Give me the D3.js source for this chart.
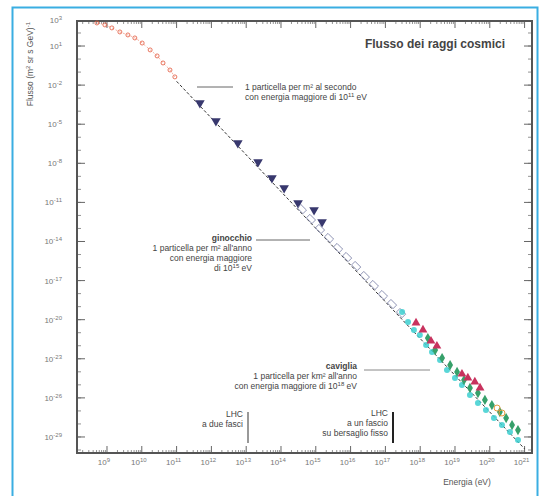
<!DOCTYPE html>
<html>
<head>
<meta charset="utf-8">
<script src="https://cdn.jsdelivr.net/npm/d3@7"></script>
<style>
  body { margin: 0; background: #fff; }
  svg { display: block; font-family: "Liberation Sans", Arial, sans-serif; }
</style>
</head>
<body>
<div id="chart"></div>
<script>
// all values are log10: energy in eV, flux in (m^2 sr s GeV)^-1
const xTickExps = [9, 10, 11, 12, 13, 14, 15, 16, 17, 18, 19, 20, 21];
const yTickExps = [3, 1, -2, -5, -8, -11, -14, -17, -20, -23, -26, -29];

const redE = [8.71, 8.94, 9.14, 9.37, 9.60, 9.80, 10.01, 10.24, 10.44, 10.61, 10.81, 10.95];
const redF = [2.77, 2.62, 2.39, 2.08, 1.85, 1.62, 1.23, 0.70, 0.24, -0.30, -0.84, -1.37];

const protonE = [11.67, 12.13, 12.76, 13.34, 13.74, 14.09, 14.49, 14.95, 15.18];
const protonF = [-3.37, -4.75, -6.44, -7.90, -9.13, -9.89, -11.04, -11.58, -12.50];

const openE = [14.60, 14.86, 15.12, 15.38, 15.64, 15.90, 16.16, 16.41, 16.67, 16.93, 17.19, 17.45];
const openF = [-11.51, -12.27, -13.04, -13.73, -14.50, -15.19, -15.88, -16.65, -17.34, -18.11, -18.80, -19.49];

const cyanE = [17.48, 17.65, 17.82, 17.99, 18.17, 18.34, 18.57, 18.77, 19.00, 19.20, 19.43, 19.66, 19.89, 20.12, 20.35, 20.58, 20.81];
const cyanF = [-19.41, -20.18, -20.79, -21.18, -21.94, -22.48, -23.09, -23.86, -24.47, -25.01, -25.78, -26.39, -26.93, -27.55, -28.09, -28.62, -29.23];

const crimsonE = [17.88, 18.08, 18.31, 18.48, 19.20, 19.37, 19.57, 19.72];
const crimsonF = [-20.25, -20.79, -21.64, -22.02, -24.17, -24.47, -24.78, -25.24];

const greenE = [18.22, 18.43, 18.63, 18.86, 19.06, 19.26, 19.43, 19.66, 19.86, 20.06, 20.29, 20.47, 20.64, 20.81];
const greenF = [-21.41, -22.33, -22.94, -23.48, -24.01, -24.63, -25.24, -25.63, -26.16, -26.55, -27.09, -27.55, -28.09, -28.47];

const orangeE = [20.21, 20.35];
const orangeF = [-26.78, -27.16];

// power law guide line
const lineE = [11.0, 21.0];
const lineF = [-1.71, -29.91];

const W = 544, H = 496;
const mLeft = 77, mRight = 532, mTop = 21, mBottom = 453;

const svg = d3.select('#chart').append('svg')
    .attr('width', W)
    .attr('height', H);

// light blue outer frame
svg.append('rect')
    .attr('x', 12.5).attr('y', 7.5)
    .attr('width', 525).attr('height', 500)
    .attr('fill', 'none')
    .attr('stroke', '#3aaee2')
    .attr('stroke-width', 2);

const x = d3.scaleLog()
    .domain([Math.pow(10, 8.138), Math.pow(10, 21.213)])
    .range([mLeft, mRight]);
const y = d3.scaleLog()
    .domain([Math.pow(10, -30.23), Math.pow(10, 2.92)])
    .range([mBottom, mTop]);

const pts = (es, fs) => es.map((e, i) => ({ e: Math.pow(10, e), f: Math.pow(10, fs[i]) }));

const plot = svg.append('g');

// ticks on all four sides, pointing inwards
const xDecades = d3.range(8, 22);
const xMinor = [];
xDecades.forEach(d => { for (let k = 2; k < 10; k++) xMinor.push(k * Math.pow(10, d)); });
const xMinorIn = xMinor.filter(v => v > x.domain()[0] && v < x.domain()[1]);
const xMajor = xTickExps.map(e => Math.pow(10, e));

[mBottom, mTop].forEach(yy => {
    const dir = yy === mBottom ? -1 : 1;
    plot.selectAll(null).data(xMinorIn).join('line')
        .attr('x1', d => x(d)).attr('x2', d => x(d))
        .attr('y1', yy).attr('y2', yy + dir * 3)
        .attr('stroke', '#777').attr('stroke-width', 0.8);
    plot.selectAll(null).data(xMajor).join('line')
        .attr('x1', d => x(d)).attr('x2', d => x(d))
        .attr('y1', yy).attr('y2', yy + dir * 7)
        .attr('stroke', '#666').attr('stroke-width', 1);
});

const yDecades = d3.range(-30, 3).map(e => Math.pow(10, e));
[mLeft, mRight].forEach(xx => {
    const dir = xx === mLeft ? 1 : -1;
    plot.selectAll(null).data(yDecades).join('line')
        .attr('x1', xx).attr('x2', xx + dir * 4)
        .attr('y1', d => y(d)).attr('y2', d => y(d))
        .attr('stroke', '#777').attr('stroke-width', 0.8);
    plot.selectAll(null).data(yTickExps.filter(e => e < 2.92)).join('line')
        .attr('x1', xx).attr('x2', xx + dir * 8)
        .attr('y1', d => y(Math.pow(10, d))).attr('y2', d => y(Math.pow(10, d)))
        .attr('stroke', '#666').attr('stroke-width', 1);
});

// frame
plot.append('rect')
    .attr('x', mLeft).attr('y', mTop)
    .attr('width', mRight - mLeft).attr('height', mBottom - mTop)
    .attr('fill', 'none')
    .attr('stroke', '#555')
    .attr('stroke-width', 2);

// tick labels
const xl = svg.append('g').attr('fill', '#777').attr('font-size', 8);
xTickExps.forEach(e => {
    const t = xl.append('text')
        .attr('x', x(Math.pow(10, e)) - 3)
        .attr('y', 465)
        .attr('text-anchor', 'middle');
    t.append('tspan').text('10');
    t.append('tspan').attr('dy', -3).attr('font-size', 6).text(e);
});

const yl = svg.append('g').attr('fill', '#777').attr('font-size', 8);
yTickExps.forEach(e => {
    const t = yl.append('text')
        .attr('x', 62)
        .attr('y', Math.max(y(Math.pow(10, e)), 20) + 3)
        .attr('text-anchor', 'end');
    t.append('tspan').text('10');
    t.append('tspan').attr('dy', -3).attr('font-size', 6).text(e);
});

// axis titles
const yt = svg.append('text')
    .attr('transform', 'translate(33,22) rotate(-90)')
    .attr('text-anchor', 'end')
    .attr('font-size', 8.5)
    .attr('fill', '#555');
yt.append('tspan').text('Flusso (m');
yt.append('tspan').attr('dy', -3).attr('font-size', 6).text('2');
yt.append('tspan').attr('dy', 3).text(' sr s GeV)');
yt.append('tspan').attr('dy', -3).attr('font-size', 6).text('-1');

svg.append('text')
    .attr('x', 467).attr('y', 485)
    .attr('text-anchor', 'middle')
    .attr('font-size', 8.5)
    .attr('fill', '#555')
    .text('Energia (eV)');

svg.append('text')
    .attr('x', 505).attr('y', 48)
    .attr('text-anchor', 'end')
    .attr('font-size', 12)
    .attr('font-weight', 'bold')
    .attr('fill', '#444')
    .text('Flusso dei raggi cosmici');

// dashed power law
plot.append('path')
    .datum(pts(lineE, lineF))
    .attr('fill', 'none')
    .attr('stroke', '#333')
    .attr('stroke-width', 1)
    .attr('stroke-dasharray', '3,2')
    .attr('d', d3.line().x(d => x(d.e)).y(d => y(d.f)));

// low energy points
plot.append('path')
    .datum(pts(redE, redF))
    .attr('fill', 'none')
    .attr('stroke', '#f2a08a')
    .attr('stroke-width', 0.8)
    .attr('stroke-dasharray', '2,2')
    .attr('d', d3.line().curve(d3.curveMonotoneX).x(d => x(d.e)).y(d => y(d.f)));
plot.selectAll('.red').data(pts(redE, redF)).join('circle')
    .attr('class', 'red')
    .attr('cx', d => x(d.e)).attr('cy', d => y(d.f))
    .attr('r', 2)
    .attr('fill', 'none')
    .attr('stroke', '#e2553a')
    .attr('stroke-width', 0.8);

// proton triangles
const triDown = d3.symbol().type(d3.symbolTriangle).size(40);
plot.selectAll('.proton').data(pts(protonE, protonF)).join('path')
    .attr('class', 'proton')
    .attr('d', triDown)
    .attr('transform', d => `translate(${x(d.e)},${y(d.f)}) rotate(180)`)
    .attr('fill', '#38386e');

// open boxes band
plot.selectAll('.open').data(pts(openE, openF)).join('rect')
    .attr('class', 'open')
    .attr('x', d => x(d.e) - 4).attr('y', d => y(d.f) - 2.5)
    .attr('width', 8).attr('height', 5)
    .attr('transform', d => `rotate(45,${x(d.e)},${y(d.f)})`)
    .attr('fill', 'none')
    .attr('stroke', '#7a7fa6')
    .attr('stroke-width', 0.8);

plot.selectAll('.cyan').data(pts(cyanE, cyanF)).join('circle')
    .attr('class', 'cyan')
    .attr('cx', d => x(d.e)).attr('cy', d => y(d.f))
    .attr('r', 3)
    .attr('fill', '#3ccfd0')
    .attr('opacity', 0.85);

plot.selectAll('.green').data(pts(greenE, greenF)).join('path')
    .attr('class', 'green')
    .attr('d', d3.symbol().type(d3.symbolDiamond).size(30))
    .attr('transform', d => `translate(${x(d.e)},${y(d.f)})`)
    .attr('fill', '#36a06a');

plot.selectAll('.crimson').data(pts(crimsonE, crimsonF)).join('path')
    .attr('class', 'crimson')
    .attr('d', d3.symbol().type(d3.symbolTriangle).size(34))
    .attr('transform', d => `translate(${x(d.e)},${y(d.f)})`)
    .attr('fill', '#c8325e');

plot.selectAll('.orange').data(pts(orangeE, orangeF)).join('circle')
    .attr('class', 'orange')
    .attr('cx', d => x(d.e)).attr('cy', d => y(d.f))
    .attr('r', 3)
    .attr('fill', 'none')
    .attr('stroke', '#e39a3a')
    .attr('stroke-width', 1);

// annotations
const ann = svg.append('g').attr('font-size', 8.5).attr('fill', '#444');

ann.append('line').attr('x1', 197).attr('x2', 233).attr('y1', 87).attr('y2', 87)
    .attr('stroke', '#666').attr('stroke-width', 1);
const a1 = ann.append('text').attr('x', 245).attr('y', 90);
a1.append('tspan').attr('x', 245).text('1 particella per m² al secondo');
const a1b = ann.append('text').attr('x', 245).attr('y', 100);
a1b.append('tspan').text('con energia maggiore di 10');
a1b.append('tspan').attr('dy', -3).attr('font-size', 6).text('11');
a1b.append('tspan').attr('dy', 3).text(' eV');

ann.append('line').attr('x1', 256).attr('x2', 310).attr('y1', 240).attr('y2', 240)
    .attr('stroke', '#666').attr('stroke-width', 1);
ann.append('text').attr('x', 252).attr('y', 241).attr('text-anchor', 'end')
    .attr('font-weight', 'bold').text('ginocchio');
ann.append('text').attr('x', 252).attr('y', 251).attr('text-anchor', 'end')
    .text('1 particella per m² all\'anno');
ann.append('text').attr('x', 252).attr('y', 261).attr('text-anchor', 'end')
    .text('con energia maggiore');
const k4 = ann.append('text').attr('x', 252).attr('y', 271).attr('text-anchor', 'end');
k4.append('tspan').text('di 10');
k4.append('tspan').attr('dy', -3).attr('font-size', 6).text('15');
k4.append('tspan').attr('dy', 3).text(' eV');

ann.append('line').attr('x1', 364).attr('x2', 430).attr('y1', 370).attr('y2', 370)
    .attr('stroke', '#888').attr('stroke-width', 1);
ann.append('text').attr('x', 357).attr('y', 369).attr('text-anchor', 'end')
    .attr('font-weight', 'bold').text('caviglia');
ann.append('text').attr('x', 357).attr('y', 379).attr('text-anchor', 'end')
    .text('1 particella per km² all\'anno');
const c3 = ann.append('text').attr('x', 357).attr('y', 389).attr('text-anchor', 'end');
c3.append('tspan').text('con energia maggiore di 10');
c3.append('tspan').attr('dy', -3).attr('font-size', 6).text('18');
c3.append('tspan').attr('dy', 3).text(' eV');

// accelerator markers
ann.append('line').attr('x1', 248).attr('x2', 248).attr('y1', 412).attr('y2', 443)
    .attr('stroke', '#555').attr('stroke-width', 1.2);
ann.append('text').attr('x', 243).attr('y', 417).attr('text-anchor', 'end').text('LHC');
ann.append('text').attr('x', 243).attr('y', 427).attr('text-anchor', 'end').text('a due fasci');

ann.append('line').attr('x1', 393).attr('x2', 393).attr('y1', 412).attr('y2', 443)
    .attr('stroke', '#222').attr('stroke-width', 2);
ann.append('text').attr('x', 388).attr('y', 416).attr('text-anchor', 'end').text('LHC');
ann.append('text').attr('x', 388).attr('y', 426).attr('text-anchor', 'end').text('a un fascio');
ann.append('text').attr('x', 388).attr('y', 436).attr('text-anchor', 'end').text('su bersaglio fisso');
</script>
</body>
</html>
